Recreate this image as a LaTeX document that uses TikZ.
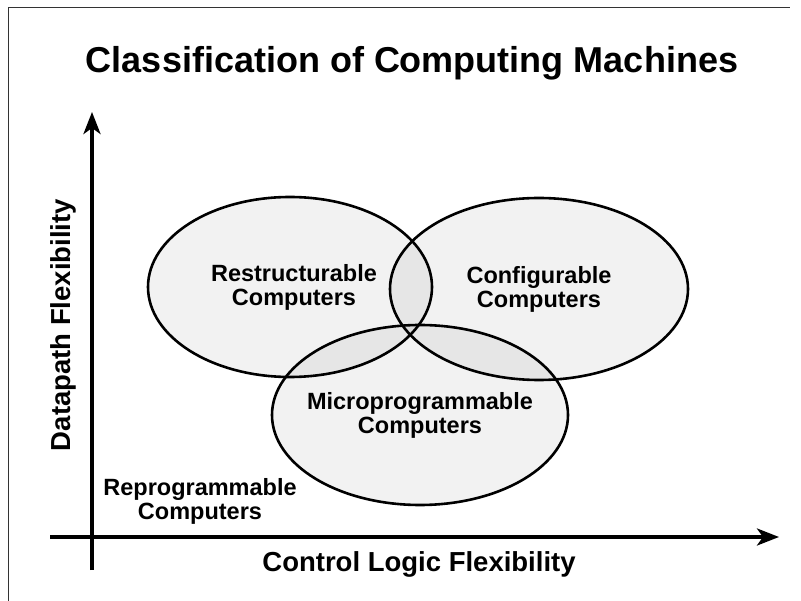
\documentclass[tikz,border=0pt]{standalone}
\usepackage{fontspec}
\setmainfont{Liberation Sans}
\usetikzlibrary{shapes.geometric,arrows.meta}
\tikzset{
  set/.style={ellipse, draw=black, line width=2.6pt, fill=black, fill opacity=0.05,
    inner sep=0pt},
  setlabel/.style={align=center, font=\bfseries\fontsize{23.5}{24}\selectfont},
  axis/.style={line width=3.6pt, -{Stealth[length=22pt,width=17pt,inset=6pt]}},
  lbl/.style={font=\bfseries\fontsize{27.5}{30}\selectfont},
}
\begin{document}
\begin{tikzpicture}[x=1pt,y=-1pt]
\useasboundingbox (0,0) rectangle (801,601);
% partial frame
\draw[line width=1pt, black!80] (8,601) -- (8,8) -- (790,8);

\node[font=\bfseries\fontsize{36}{40}\selectfont] (title) at (412,63) {Classification of Computing Machines};

% axes
\coordinate (yb) at (92,570);
\coordinate (yt) at (92,112);
\coordinate (xl) at (50,537);
\coordinate (xr) at (779,537);
\draw[axis] (yb) -- (yt);
\draw[axis] (xl) -- (xr);
\node[lbl, rotate=90] (ylab) at (63,325) {Datapath Flexibility};
\node[lbl] (xlab) at (419,564) {Control Logic Flexibility};

% classes
\node[set, minimum width=284pt, minimum height=180pt] (res) at (290,287) {};
\node[set, minimum width=298pt, minimum height=182pt] (conf) at (539,289) {};
\node[set, minimum width=296pt, minimum height=180pt] (micro) at (420,415) {};
\node[setlabel] (resT) at ([xshift=4pt]res.center) {Restructurable\\Computers};
\node[setlabel] (confT) at (conf.center) {Configurable\\Computers};
\node[setlabel] (microT) at (micro.center) {Microprogrammable\\Computers};

\node[setlabel] (repro) at (200,501) {Reprogrammable\\Computers};
\end{tikzpicture}
\end{document}
